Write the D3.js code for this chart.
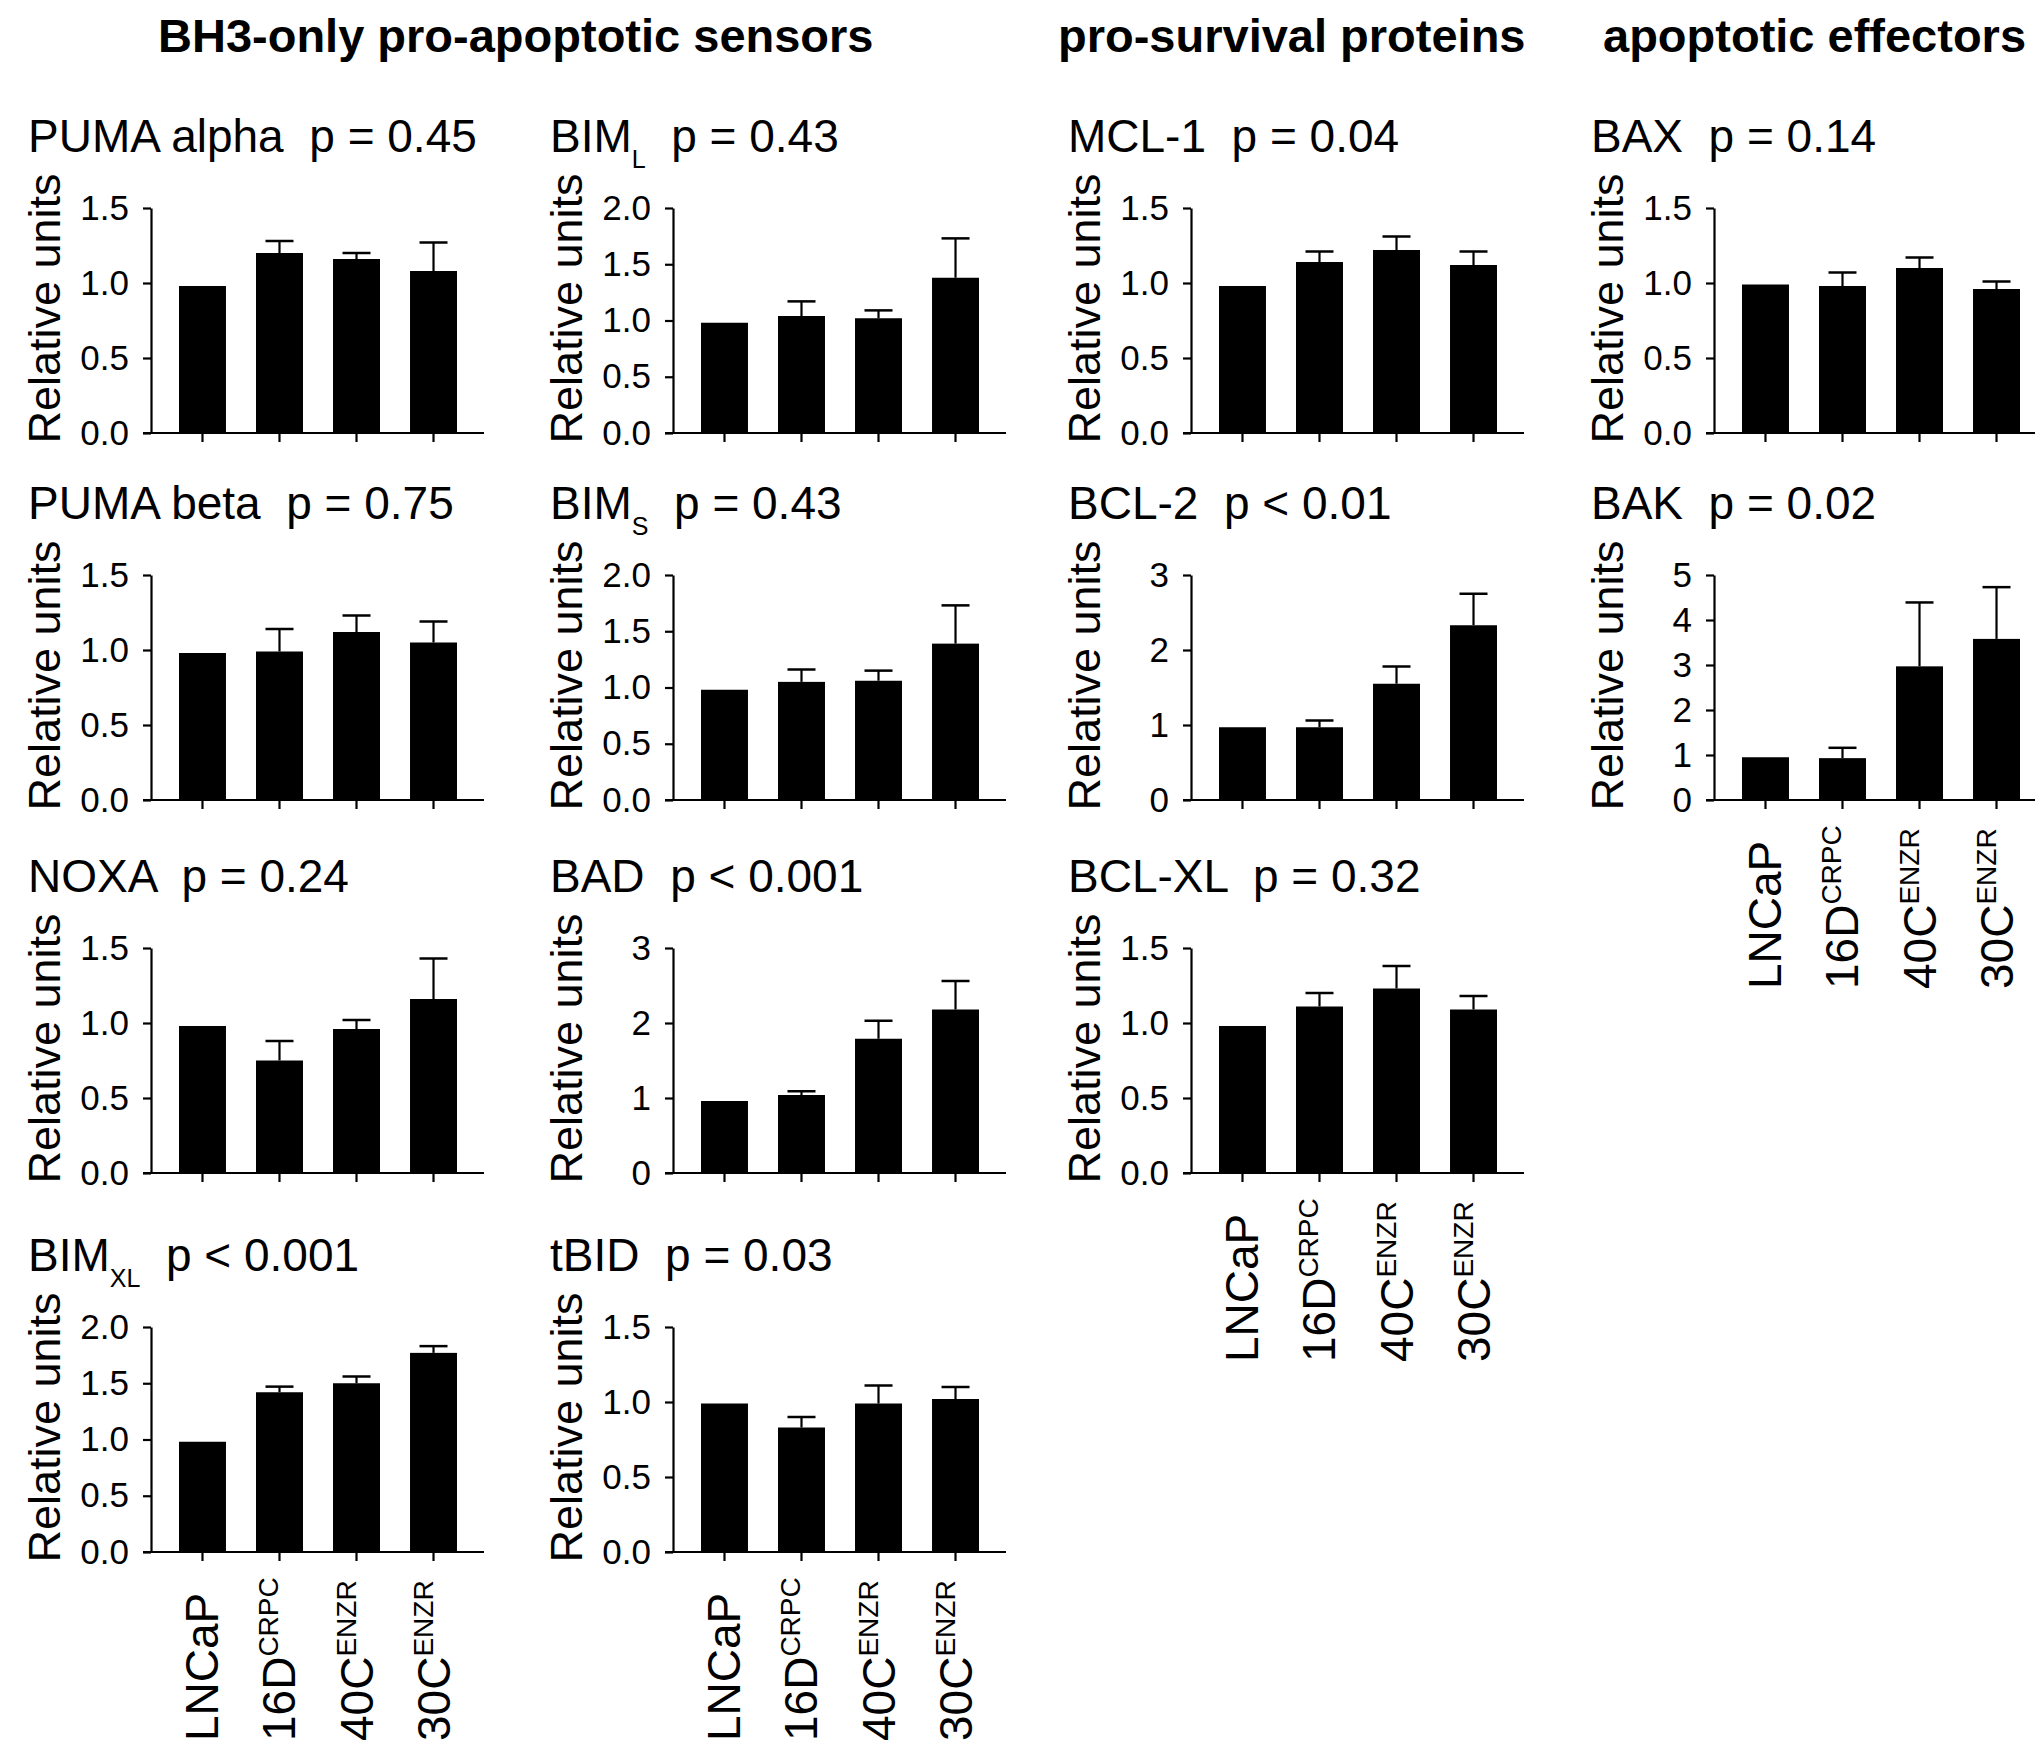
<!DOCTYPE html>
<html>
<head>
<meta charset="utf-8">
<script src="https://cdn.jsdelivr.net/npm/d3@7"></script>
<style>
    body { margin: 0; background: #fff; }
    svg { display: block; font-family: "Liberation Sans", Arial, Helvetica, sans-serif; }
    .axis path, .axis line { stroke: #000; stroke-width: 2.2px; }
    .axis text { fill: #000; font-size: 35px; font-family: "Liberation Sans", Arial, sans-serif; }
</style>
</head>
<body>
<div id="chart"></div>
<script>
// cell lines on the x axis
const groups = ["LNCaP", "16D", "40C", "30C"];
const groupSups = ["", "CRPC", "ENZR", "ENZR"];

// column headings
const sections = ["BH3-only pro-apoptotic sensors", "pro-survival proteins", "apoptotic effectors"];

// one entry per panel
const proteins = ["PUMA alpha", "BIM", "MCL-1", "BAX", "PUMA beta", "BIM", "BCL-2", "BAK", "NOXA", "BAD", "BCL-XL", "BIM", "tBID"];
const proteinSubs = ["", "L", "", "", "", "S", "", "", "", "", "", "XL", ""];
const pLabels = ["p = 0.45", "p = 0.43", "p = 0.04", "p = 0.14", "p = 0.75", "p = 0.43", "p < 0.01",
                 "p = 0.02", "p = 0.24", "p < 0.001", "p = 0.32", "p < 0.001", "p = 0.03"];
const yMax  = [1.5, 2, 1.5, 1.5, 1.5, 2, 3, 5, 1.5, 3, 1.5, 2, 1.5];
const yStep = [0.5, 0.5, 0.5, 0.5, 0.5, 0.5, 1, 1, 0.5, 1, 0.5, 0.5, 0.5];

// mean and SEM per panel, in the order of groups
const means = [
    [0.98, 1.20, 1.16, 1.08],   // PUMA alpha
    [0.98, 1.04, 1.02, 1.38],   // BIM L
    [0.98, 1.14, 1.22, 1.12],   // MCL-1
    [0.99, 0.98, 1.10, 0.96],   // BAX
    [0.98, 0.99, 1.12, 1.05],   // PUMA beta
    [0.98, 1.05, 1.06, 1.39],   // BIM S
    [0.97, 0.97, 1.55, 2.33],   // BCL-2
    [0.95, 0.93, 2.97, 3.58],   // BAK
    [0.98, 0.75, 0.96, 1.16],   // NOXA
    [0.96, 1.04, 1.79, 2.18],   // BAD
    [0.98, 1.11, 1.23, 1.09],   // BCL-XL
    [0.98, 1.42, 1.50, 1.77],   // BIM XL
    [0.99, 0.83, 0.99, 1.02]    // tBID
];
const sems = [
    [0, 0.08, 0.04, 0.19],
    [0, 0.13, 0.07, 0.35],
    [0, 0.07, 0.09, 0.09],
    [0, 0.09, 0.07, 0.05],
    [0, 0.15, 0.11, 0.14],
    [0, 0.11, 0.09, 0.34],
    [0, 0.09, 0.23, 0.42],
    [0, 0.23, 1.42, 1.15],
    [0, 0.13, 0.06, 0.27],
    [0, 0.05, 0.24, 0.38],
    [0, 0.09, 0.15, 0.09],
    [0, 0.05, 0.06, 0.06],
    [0, 0.07, 0.12, 0.08]
];

// layout
const W = 2035, H = 1741;
const colX = [151, 673, 1191, 1714];      // y axis position of each column
const rowTop = [208, 575, 948, 1327];     // top of the y axis of each row
const plotH = 225;
const panelCol = [0, 1, 2, 3, 0, 1, 2, 3, 0, 1, 2, 0, 1];
const panelRow = [0, 0, 0, 0, 1, 1, 1, 1, 2, 2, 2, 3, 3];
const withXLabels = [7, 10, 11, 12];
const sectionX = [158, 1058, 1603];

const svg = d3.select("#chart").append("svg")
    .attr("width", W)
    .attr("height", H)
    .attr("viewBox", `0 0 ${W} ${H}`);

svg.append("rect").attr("width", W).attr("height", H).attr("fill", "#fff");

// headings
svg.selectAll("text.section")
    .data(sections)
    .enter()
    .append("text")
    .attr("class", "section")
    .attr("x", (d, i) => sectionX[i])
    .attr("y", 52)
    .style("font-size", "47px")
    .style("font-weight", "bold")
    .text(d => d);

proteins.forEach((name, i) => {
    const ax = colX[panelCol[i]];
    const top = rowTop[panelRow[i]];
    const zero = top + plotH;

    const g = svg.append("g");

    const y = d3.scaleLinear().domain([0, yMax[i]]).range([zero, top]);
    const x = d3.scaleBand().domain(groups)
        .range([ax + 28, ax + 306])
        .paddingInner(0.39)
        .paddingOuter(0);

    // title
    const title = g.append("text")
        .attr("x", ax - 123)
        .attr("y", top - 56)
        .style("font-size", "46px")
        .style("white-space", "pre");
    title.append("tspan").text(name);
    if (proteinSubs[i]) {
        title.append("tspan").attr("dy", 16).style("font-size", "25px").text(proteinSubs[i]);
        title.append("tspan").attr("dy", -16).text("  " + pLabels[i]);
    } else {
        title.append("tspan").text("  " + pLabels[i]);
    }

    // y axis label
    g.append("text")
        .attr("transform", `translate(${ax - 91},${top + plotH / 2 - 12}) rotate(-90)`)
        .attr("text-anchor", "middle")
        .style("font-size", "45px")
        .text("Relative units");

    // bars
    g.selectAll("rect.bar")
        .data(groups)
        .enter()
        .append("rect")
        .attr("class", "bar")
        .attr("x", d => x(d))
        .attr("width", x.bandwidth())
        .attr("y", (d, j) => y(means[i][j]))
        .attr("height", (d, j) => zero - y(means[i][j]))
        .attr("fill", "#000");

    // error bars (upper only)
    const errs = groups.map((d, j) => ({ g: d, m: means[i][j], s: sems[i][j] })).filter(e => e.s > 0);
    g.selectAll("line.stem")
        .data(errs)
        .enter()
        .append("line")
        .attr("x1", e => x(e.g) + x.bandwidth() / 2)
        .attr("x2", e => x(e.g) + x.bandwidth() / 2)
        .attr("y1", e => y(e.m))
        .attr("y2", e => y(e.m + e.s))
        .attr("stroke", "#000")
        .attr("stroke-width", 2.2);
    g.selectAll("line.cap")
        .data(errs)
        .enter()
        .append("line")
        .attr("x1", e => x(e.g) + x.bandwidth() / 2 - 14)
        .attr("x2", e => x(e.g) + x.bandwidth() / 2 + 14)
        .attr("y1", e => y(e.m + e.s))
        .attr("y2", e => y(e.m + e.s))
        .attr("stroke", "#000")
        .attr("stroke-width", 2.5);

    // y axis
    const fmt = yStep[i] < 1 ? d3.format(".1f") : d3.format("d");
    g.append("g")
        .attr("class", "axis")
        .attr("transform", `translate(${ax},0)`)
        .call(d3.axisLeft(y)
            .tickValues(d3.range(0, yMax[i] + yStep[i] / 2, yStep[i]))
            .tickFormat(fmt)
            .tickSize(8)
            .tickSizeOuter(0)
            .tickPadding(14));

    // x axis
    const xa = g.append("g")
        .attr("class", "axis")
        .attr("transform", `translate(0,${zero})`)
        .call(d3.axisBottom(x).tickSize(9).tickSizeOuter(0).tickFormat(""));
    xa.select(".domain").remove();
    xa.append("line")
        .attr("x1", ax - 8)
        .attr("x2", ax + 333)
        .attr("stroke", "#000")
        .attr("stroke-width", 2.2);

    // rotated group labels
    if (withXLabels.includes(i)) {
        groups.forEach((grp, j) => {
            const cx = x(grp) + x.bandwidth() / 2;
            const t = g.append("text")
                .attr("transform", `translate(${cx + 16},${zero + 189}) rotate(-90)`)
                .style("font-size", "46px");
            t.append("tspan").text(grp);
            if (groupSups[j]) {
                t.append("tspan").attr("dy", -17).style("font-size", "28px").text(groupSups[j]);
            }
        });
    }
});
</script>
</body>
</html>
